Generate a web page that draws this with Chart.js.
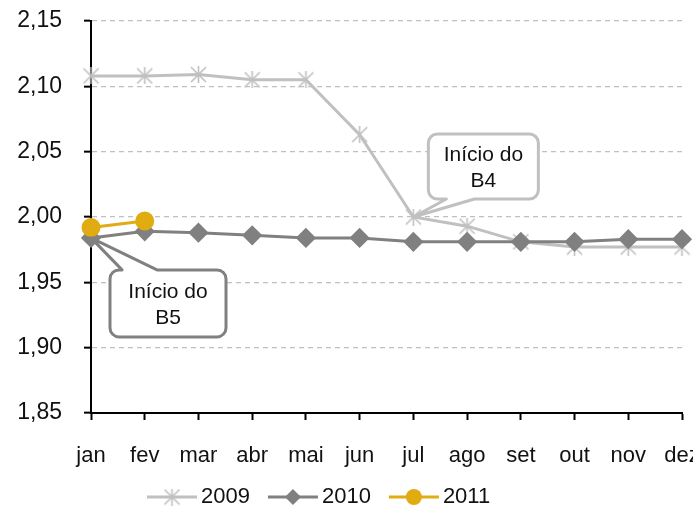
<!DOCTYPE html>
<html lang="pt">
<head>
    <meta charset="UTF-8">
    <title>Evolução 2009-2011</title>
    <script src="https://cdn.jsdelivr.net/npm/chart.js"></script>
    <style>
        body {
            margin: 0;
            background: #fff;
            overflow: hidden;
        }
        canvas {
            display: block;
        }
    </style>
</head>
<body>
    <canvas id="chart" width="693" height="514"></canvas>

    <script>
        // Dados
        const months = ['jan', 'fev', 'mar', 'abr', 'mai', 'jun', 'jul', 'ago', 'set', 'out', 'nov', 'dez'];
        const series2009 = [2.108, 2.108, 2.109, 2.105, 2.105, 2.063, 2.000, 1.993, 1.981, 1.977, 1.977, 1.977];
        const series2010 = [1.984, 1.989, 1.988, 1.986, 1.984, 1.984, 1.981, 1.981, 1.981, 1.981, 1.983, 1.983];
        const series2011 = [1.992, 1.997];
        const seriesNames = ['2009', '2010', '2011'];
        const yMin = 1.85, yMax = 2.15, yStep = 0.05;

        const FONT = '"Liberation Sans", Arial, sans-serif';
        const C2009 = '#c0c0c0', C2010 = '#808080', C2011 = '#e0ac12';

        // Excel-style star marker (X plus vertical line)
        function makeStar(size, color) {
            const c = document.createElement('canvas');
            c.width = size; c.height = size;
            const g = c.getContext('2d');
            const m = size / 2, r = size / 2 - 1;
            g.strokeStyle = color;
            g.lineWidth = 1.6;
            g.beginPath();
            g.moveTo(m - r, m - r); g.lineTo(m + r, m + r);
            g.moveTo(m - r, m + r); g.lineTo(m + r, m - r);
            g.moveTo(m, m - r - 1); g.lineTo(m, m + r + 1);
            g.stroke();
            return c;
        }
        const starMarker = makeStar(17, C2009);

        // Callout box with pointer
        function drawCallout(ctx, box, side, b1, b2, anchor, color, lines) {
            const { x, y, w, h, r } = box;
            ctx.save();
            ctx.beginPath();
            ctx.moveTo(x + r, y);
            if (side === 'top') {
                ctx.lineTo(b1, y);
                ctx.lineTo(anchor.x, anchor.y);
                ctx.lineTo(b2, y);
            }
            ctx.arcTo(x + w, y, x + w, y + h, r);
            ctx.arcTo(x + w, y + h, x, y + h, r);
            if (side === 'bottom') {
                ctx.lineTo(b2, y + h);
                ctx.lineTo(anchor.x, anchor.y);
                ctx.lineTo(b1, y + h);
            }
            ctx.arcTo(x, y + h, x, y, r);
            ctx.arcTo(x, y, x + w, y, r);
            ctx.closePath();
            ctx.fillStyle = '#fff';
            ctx.fill();
            ctx.lineWidth = 3;
            ctx.strokeStyle = color;
            ctx.lineJoin = 'round';
            ctx.stroke();
            ctx.fillStyle = '#111';
            ctx.font = '21px ' + FONT;
            ctx.textAlign = 'center';
            ctx.textBaseline = 'middle';
            ctx.fillText(lines[0], x + w / 2, y + h / 2 - 11);
            ctx.fillText(lines[1], x + w / 2, y + h / 2 + 15);
            ctx.restore();
        }

        const calloutPlugin = {
            id: 'callouts',
            afterDatasetsDraw(chart) {
                const ctx = chart.ctx;
                const xs = chart.scales.x, ys = chart.scales.y;
                // Início do B4 -> jul 2009
                const a4 = { x: xs.getPixelForValue(6), y: ys.getPixelForValue(series2009[6]) };
                drawCallout(ctx, { x: a4.x + 15, y: a4.y - 83, w: 110, h: 65, r: 9 }, 'bottom',
                    a4.x + 33, a4.x + 61, a4, C2009, ['Início do', 'B4']);
                // Início do B5 -> jan 2010
                const a5 = { x: xs.getPixelForValue(0), y: ys.getPixelForValue(series2010[0]) };
                drawCallout(ctx, { x: a5.x + 19, y: a5.y + 32, w: 116, h: 67, r: 9 }, 'top',
                    a5.x + 31, a5.x + 66, a5, C2010, ['Início do', 'B5']);
            }
        };

        // Legend drawn as line + marker + label
        const legendPlugin = {
            id: 'lineLegend',
            afterDraw(chart) {
                const ctx = chart.ctx;
                const y = 497;
                let x = 147;
                ctx.save();
                ctx.font = '22px ' + FONT;
                ctx.textBaseline = 'middle';
                chart.data.datasets.forEach(ds => {
                    ctx.strokeStyle = ds.borderColor;
                    ctx.lineWidth = 3;
                    ctx.beginPath();
                    ctx.moveTo(x, y);
                    ctx.lineTo(x + 50, y);
                    ctx.stroke();
                    if (ds.pointStyle === starMarker) {
                        ctx.drawImage(starMarker, x + 25 - starMarker.width / 2, y - starMarker.height / 2);
                    } else {
                        ctx.fillStyle = ds.pointBackgroundColor;
                        ctx.beginPath();
                        const r = ds.pointRadius;
                        if (ds.pointStyle === 'circle') {
                            ctx.arc(x + 25, y, r, 0, Math.PI * 2);
                        } else {
                            ctx.moveTo(x + 25, y - r); ctx.lineTo(x + 25 + r, y);
                            ctx.lineTo(x + 25, y + r); ctx.lineTo(x + 25 - r, y);
                            ctx.closePath();
                        }
                        ctx.fill();
                    }
                    ctx.fillStyle = '#111';
                    ctx.fillText(ds.label, x + 54, y);
                    x += 54 + ctx.measureText(ds.label).width + 18;
                });
                ctx.restore();
            }
        };

        new Chart(document.getElementById('chart'), {
            type: 'line',
            data: {
                labels: months,
                datasets: [
                    {
                        label: seriesNames[0],
                        data: series2009,
                        borderColor: C2009,
                        backgroundColor: C2009,
                        pointBackgroundColor: C2009,
                        borderWidth: 3,
                        pointStyle: starMarker,
                        pointRadius: 8,
                        order: 2
                    },
                    {
                        label: seriesNames[1],
                        data: series2010,
                        borderColor: C2010,
                        backgroundColor: C2010,
                        pointBackgroundColor: C2010,
                        pointBorderColor: C2010,
                        borderWidth: 3,
                        pointStyle: 'rectRot',
                        pointRadius: 8,
                        order: 1
                    },
                    {
                        label: seriesNames[2],
                        data: series2011,
                        borderColor: C2011,
                        backgroundColor: C2011,
                        pointBackgroundColor: C2011,
                        pointBorderColor: C2011,
                        borderWidth: 3,
                        pointStyle: 'circle',
                        pointRadius: 8,
                        order: 0
                    }
                ]
            },
            options: {
                responsive: false,
                animation: false,
                layout: { padding: { top: 21, right: 9, left: 0, bottom: 0 } },
                plugins: {
                    legend: { display: false },
                    tooltip: { enabled: false }
                },
                scales: {
                    x: {
                        offset: false,
                        grid: {
                            drawOnChartArea: false,
                            drawTicks: true,
                            tickLength: 7,
                            tickColor: '#000',
                            tickWidth: 2
                        },
                        border: { display: true, color: '#000', width: 2 },
                        ticks: {
                            color: '#111',
                            font: { family: FONT, size: 22 },
                            padding: 23,
                            autoSkip: false,
                            maxRotation: 0
                        },
                        afterFit(scale) {
                            scale.paddingLeft = 0;
                            scale.paddingRight = 0;
                            scale.height = 101;
                        }
                    },
                    y: {
                        min: yMin,
                        max: yMax,
                        ticks: {
                            stepSize: yStep,
                            color: '#111',
                            font: { family: FONT, size: 23 },
                            padding: 22,
                            callback: v => v.toFixed(2).replace('.', ',')
                        },
                        grid: {
                            color: '#c0c0c0',
                            lineWidth: 1.3,
                            tickColor: '#000',
                            tickWidth: 2,
                            tickLength: 7,
                            tickBorderDash: []
                        },
                        border: { display: true, color: '#000', width: 2, dash: [5, 4] },
                        afterFit(scale) {
                            scale.width = 91;
                            scale.paddingTop = 0;
                            scale.paddingBottom = 0;
                        }
                    }
                }
            },
            plugins: [calloutPlugin, legendPlugin]
        });
    </script>
</body>
</html>
